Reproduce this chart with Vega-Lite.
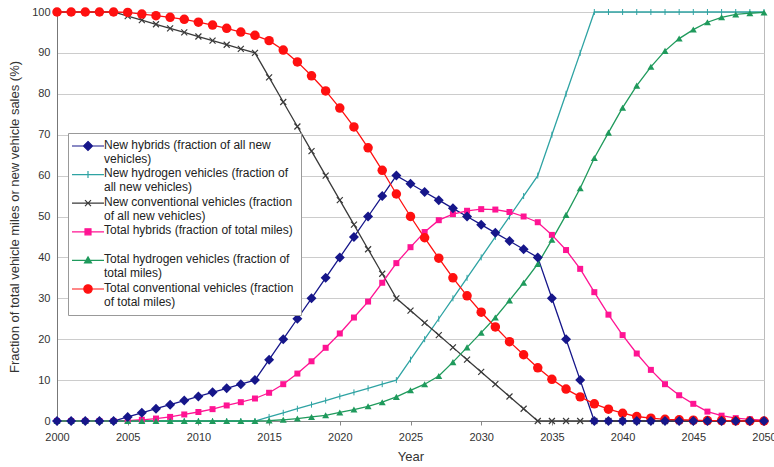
{
"$schema": "https://vega.github.io/schema/vega-lite/v6.json",
"width": 707, "height": 409,
"autosize": "none",
"padding": {"left": 57, "top": 12, "right": 10, "bottom": 46},
"background": "white",
"config": {
  "font": "Liberation Sans",
  "view": {"stroke": "#bbbbbb"},
  "axis": {"labelFont": "Liberation Sans", "titleFont": "Liberation Sans", "labelColor": "#333", "titleColor": "#333", "labelFontSize": 11, "titleFontSize": 13, "titleFontWeight": "normal", "gridColor": "#cccccc", "domainColor": "#888888"}
},
"data": {"values": [
{"series":"New hybrids","year":2000,"value":0},{"series":"New hybrids","year":2001,"value":0},{"series":"New hybrids","year":2002,"value":0},{"series":"New hybrids","year":2003,"value":0},{"series":"New hybrids","year":2004,"value":0},
{"series":"New hybrids","year":2005,"value":1},{"series":"New hybrids","year":2006,"value":2},{"series":"New hybrids","year":2007,"value":3},{"series":"New hybrids","year":2008,"value":4},{"series":"New hybrids","year":2009,"value":5},
{"series":"New hybrids","year":2010,"value":6},{"series":"New hybrids","year":2011,"value":7},{"series":"New hybrids","year":2012,"value":8},{"series":"New hybrids","year":2013,"value":9},{"series":"New hybrids","year":2014,"value":10},
{"series":"New hybrids","year":2015,"value":15},{"series":"New hybrids","year":2016,"value":20},{"series":"New hybrids","year":2017,"value":25},{"series":"New hybrids","year":2018,"value":30},{"series":"New hybrids","year":2019,"value":35},
{"series":"New hybrids","year":2020,"value":40},{"series":"New hybrids","year":2021,"value":45},{"series":"New hybrids","year":2022,"value":50},{"series":"New hybrids","year":2023,"value":55},{"series":"New hybrids","year":2024,"value":60},
{"series":"New hybrids","year":2025,"value":58},{"series":"New hybrids","year":2026,"value":56},{"series":"New hybrids","year":2027,"value":54},{"series":"New hybrids","year":2028,"value":52},{"series":"New hybrids","year":2029,"value":50},
{"series":"New hybrids","year":2030,"value":48},{"series":"New hybrids","year":2031,"value":46},{"series":"New hybrids","year":2032,"value":44},{"series":"New hybrids","year":2033,"value":42},{"series":"New hybrids","year":2034,"value":40},
{"series":"New hybrids","year":2035,"value":30},{"series":"New hybrids","year":2036,"value":20},{"series":"New hybrids","year":2037,"value":10},{"series":"New hybrids","year":2038,"value":0},{"series":"New hybrids","year":2039,"value":0},
{"series":"New hybrids","year":2040,"value":0},{"series":"New hybrids","year":2041,"value":0},{"series":"New hybrids","year":2042,"value":0},{"series":"New hybrids","year":2043,"value":0},{"series":"New hybrids","year":2044,"value":0},
{"series":"New hybrids","year":2045,"value":0},{"series":"New hybrids","year":2046,"value":0},{"series":"New hybrids","year":2047,"value":0},{"series":"New hybrids","year":2048,"value":0},{"series":"New hybrids","year":2049,"value":0},{"series":"New hybrids","year":2050,"value":0},

{"series":"New hydrogen","year":2000,"value":0},{"series":"New hydrogen","year":2001,"value":0},{"series":"New hydrogen","year":2002,"value":0},{"series":"New hydrogen","year":2003,"value":0},{"series":"New hydrogen","year":2004,"value":0},
{"series":"New hydrogen","year":2005,"value":0},{"series":"New hydrogen","year":2006,"value":0},{"series":"New hydrogen","year":2007,"value":0},{"series":"New hydrogen","year":2008,"value":0},{"series":"New hydrogen","year":2009,"value":0},
{"series":"New hydrogen","year":2010,"value":0},{"series":"New hydrogen","year":2011,"value":0},{"series":"New hydrogen","year":2012,"value":0},{"series":"New hydrogen","year":2013,"value":0},{"series":"New hydrogen","year":2014,"value":0},
{"series":"New hydrogen","year":2015,"value":1},{"series":"New hydrogen","year":2016,"value":2},{"series":"New hydrogen","year":2017,"value":3},{"series":"New hydrogen","year":2018,"value":4},{"series":"New hydrogen","year":2019,"value":5},
{"series":"New hydrogen","year":2020,"value":6},{"series":"New hydrogen","year":2021,"value":7},{"series":"New hydrogen","year":2022,"value":8},{"series":"New hydrogen","year":2023,"value":9},{"series":"New hydrogen","year":2024,"value":10},
{"series":"New hydrogen","year":2025,"value":15},{"series":"New hydrogen","year":2026,"value":20},{"series":"New hydrogen","year":2027,"value":25},{"series":"New hydrogen","year":2028,"value":30},{"series":"New hydrogen","year":2029,"value":35},
{"series":"New hydrogen","year":2030,"value":40},{"series":"New hydrogen","year":2031,"value":45},{"series":"New hydrogen","year":2032,"value":50},{"series":"New hydrogen","year":2033,"value":55},{"series":"New hydrogen","year":2034,"value":60},
{"series":"New hydrogen","year":2035,"value":70},{"series":"New hydrogen","year":2036,"value":80},{"series":"New hydrogen","year":2037,"value":90},{"series":"New hydrogen","year":2038,"value":100},{"series":"New hydrogen","year":2039,"value":100},
{"series":"New hydrogen","year":2040,"value":100},{"series":"New hydrogen","year":2041,"value":100},{"series":"New hydrogen","year":2042,"value":100},{"series":"New hydrogen","year":2043,"value":100},{"series":"New hydrogen","year":2044,"value":100},
{"series":"New hydrogen","year":2045,"value":100},{"series":"New hydrogen","year":2046,"value":100},{"series":"New hydrogen","year":2047,"value":100},{"series":"New hydrogen","year":2048,"value":100},{"series":"New hydrogen","year":2049,"value":100},{"series":"New hydrogen","year":2050,"value":100},

{"series":"New conventional","year":2000,"value":100},{"series":"New conventional","year":2001,"value":100},{"series":"New conventional","year":2002,"value":100},{"series":"New conventional","year":2003,"value":100},{"series":"New conventional","year":2004,"value":100},
{"series":"New conventional","year":2005,"value":99},{"series":"New conventional","year":2006,"value":98},{"series":"New conventional","year":2007,"value":97},{"series":"New conventional","year":2008,"value":96},{"series":"New conventional","year":2009,"value":95},
{"series":"New conventional","year":2010,"value":94},{"series":"New conventional","year":2011,"value":93},{"series":"New conventional","year":2012,"value":92},{"series":"New conventional","year":2013,"value":91},{"series":"New conventional","year":2014,"value":90},
{"series":"New conventional","year":2015,"value":84},{"series":"New conventional","year":2016,"value":78},{"series":"New conventional","year":2017,"value":72},{"series":"New conventional","year":2018,"value":66},{"series":"New conventional","year":2019,"value":60},
{"series":"New conventional","year":2020,"value":54},{"series":"New conventional","year":2021,"value":48},{"series":"New conventional","year":2022,"value":42},{"series":"New conventional","year":2023,"value":36},{"series":"New conventional","year":2024,"value":30},
{"series":"New conventional","year":2025,"value":27},{"series":"New conventional","year":2026,"value":24},{"series":"New conventional","year":2027,"value":21},{"series":"New conventional","year":2028,"value":18},{"series":"New conventional","year":2029,"value":15},
{"series":"New conventional","year":2030,"value":12},{"series":"New conventional","year":2031,"value":9},{"series":"New conventional","year":2032,"value":6},{"series":"New conventional","year":2033,"value":3},{"series":"New conventional","year":2034,"value":0},
{"series":"New conventional","year":2035,"value":0},{"series":"New conventional","year":2036,"value":0},{"series":"New conventional","year":2037,"value":0},{"series":"New conventional","year":2038,"value":0},{"series":"New conventional","year":2039,"value":0},
{"series":"New conventional","year":2040,"value":0},{"series":"New conventional","year":2041,"value":0},{"series":"New conventional","year":2042,"value":0},{"series":"New conventional","year":2043,"value":0},{"series":"New conventional","year":2044,"value":0},
{"series":"New conventional","year":2045,"value":0},{"series":"New conventional","year":2046,"value":0},{"series":"New conventional","year":2047,"value":0},{"series":"New conventional","year":2048,"value":0},{"series":"New conventional","year":2049,"value":0},{"series":"New conventional","year":2050,"value":0},

{"series":"Total hybrids","year":2000,"value":0},{"series":"Total hybrids","year":2001,"value":0},{"series":"Total hybrids","year":2002,"value":0},{"series":"Total hybrids","year":2003,"value":0},{"series":"Total hybrids","year":2004,"value":0},
{"series":"Total hybrids","year":2005,"value":0.1},{"series":"Total hybrids","year":2006,"value":0.3},{"series":"Total hybrids","year":2007,"value":0.6},{"series":"Total hybrids","year":2008,"value":1},{"series":"Total hybrids","year":2009,"value":1.6},
{"series":"Total hybrids","year":2010,"value":2.2},{"series":"Total hybrids","year":2011,"value":2.9},{"series":"Total hybrids","year":2012,"value":3.8},{"series":"Total hybrids","year":2013,"value":4.6},{"series":"Total hybrids","year":2014,"value":5.5},
{"series":"Total hybrids","year":2015,"value":6.9},{"series":"Total hybrids","year":2016,"value":9},{"series":"Total hybrids","year":2017,"value":11.6},{"series":"Total hybrids","year":2018,"value":14.6},{"series":"Total hybrids","year":2019,"value":17.9},
{"series":"Total hybrids","year":2020,"value":21.4},{"series":"Total hybrids","year":2021,"value":25.3},{"series":"Total hybrids","year":2022,"value":29.2},{"series":"Total hybrids","year":2023,"value":33.8},{"series":"Total hybrids","year":2024,"value":38.6},
{"series":"Total hybrids","year":2025,"value":42.5},{"series":"Total hybrids","year":2026,"value":46.2},{"series":"Total hybrids","year":2027,"value":49.1},{"series":"Total hybrids","year":2028,"value":50.6},{"series":"Total hybrids","year":2029,"value":51.4},
{"series":"Total hybrids","year":2030,"value":51.8},{"series":"Total hybrids","year":2031,"value":51.7},{"series":"Total hybrids","year":2032,"value":51.1},{"series":"Total hybrids","year":2033,"value":50},{"series":"Total hybrids","year":2034,"value":48.6},
{"series":"Total hybrids","year":2035,"value":45.5},{"series":"Total hybrids","year":2036,"value":41.8},{"series":"Total hybrids","year":2037,"value":37.2},{"series":"Total hybrids","year":2038,"value":31.5},{"series":"Total hybrids","year":2039,"value":26},
{"series":"Total hybrids","year":2040,"value":21},{"series":"Total hybrids","year":2041,"value":16.5},{"series":"Total hybrids","year":2042,"value":12.5},{"series":"Total hybrids","year":2043,"value":9},{"series":"Total hybrids","year":2044,"value":6.3},
{"series":"Total hybrids","year":2045,"value":4.2},{"series":"Total hybrids","year":2046,"value":2.3},{"series":"Total hybrids","year":2047,"value":1.3},{"series":"Total hybrids","year":2048,"value":0.7},{"series":"Total hybrids","year":2049,"value":0.4},{"series":"Total hybrids","year":2050,"value":0.2},

{"series":"Total hydrogen","year":2000,"value":0},{"series":"Total hydrogen","year":2001,"value":0},{"series":"Total hydrogen","year":2002,"value":0},{"series":"Total hydrogen","year":2003,"value":0},{"series":"Total hydrogen","year":2004,"value":0},
{"series":"Total hydrogen","year":2005,"value":0},{"series":"Total hydrogen","year":2006,"value":0},{"series":"Total hydrogen","year":2007,"value":0},{"series":"Total hydrogen","year":2008,"value":0},{"series":"Total hydrogen","year":2009,"value":0},
{"series":"Total hydrogen","year":2010,"value":0},{"series":"Total hydrogen","year":2011,"value":0},{"series":"Total hydrogen","year":2012,"value":0},{"series":"Total hydrogen","year":2013,"value":0},{"series":"Total hydrogen","year":2014,"value":0},
{"series":"Total hydrogen","year":2015,"value":0.1},{"series":"Total hydrogen","year":2016,"value":0.3},{"series":"Total hydrogen","year":2017,"value":0.6},{"series":"Total hydrogen","year":2018,"value":1},{"series":"Total hydrogen","year":2019,"value":1.4},
{"series":"Total hydrogen","year":2020,"value":2.1},{"series":"Total hydrogen","year":2021,"value":2.8},{"series":"Total hydrogen","year":2022,"value":3.6},{"series":"Total hydrogen","year":2023,"value":4.6},{"series":"Total hydrogen","year":2024,"value":5.9},
{"series":"Total hydrogen","year":2025,"value":7.5},{"series":"Total hydrogen","year":2026,"value":9},{"series":"Total hydrogen","year":2027,"value":11},{"series":"Total hydrogen","year":2028,"value":14.4},{"series":"Total hydrogen","year":2029,"value":18},
{"series":"Total hydrogen","year":2030,"value":21.6},{"series":"Total hydrogen","year":2031,"value":25.3},{"series":"Total hydrogen","year":2032,"value":29.5},{"series":"Total hydrogen","year":2033,"value":33.8},{"series":"Total hydrogen","year":2034,"value":38.4},
{"series":"Total hydrogen","year":2035,"value":44.3},{"series":"Total hydrogen","year":2036,"value":50.4},{"series":"Total hydrogen","year":2037,"value":56.9},{"series":"Total hydrogen","year":2038,"value":64.3},{"series":"Total hydrogen","year":2039,"value":70.5},
{"series":"Total hydrogen","year":2040,"value":76.6},{"series":"Total hydrogen","year":2041,"value":82},{"series":"Total hydrogen","year":2042,"value":86.6},{"series":"Total hydrogen","year":2043,"value":90.5},{"series":"Total hydrogen","year":2044,"value":93.5},
{"series":"Total hydrogen","year":2045,"value":95.7},{"series":"Total hydrogen","year":2046,"value":97.5},{"series":"Total hydrogen","year":2047,"value":98.7},{"series":"Total hydrogen","year":2048,"value":99.4},{"series":"Total hydrogen","year":2049,"value":99.7},{"series":"Total hydrogen","year":2050,"value":99.9},

{"series":"Total conventional","year":2000,"value":100},{"series":"Total conventional","year":2001,"value":100},{"series":"Total conventional","year":2002,"value":100},{"series":"Total conventional","year":2003,"value":100},{"series":"Total conventional","year":2004,"value":100},
{"series":"Total conventional","year":2005,"value":99.9},{"series":"Total conventional","year":2006,"value":99.5},{"series":"Total conventional","year":2007,"value":99.1},{"series":"Total conventional","year":2008,"value":98.7},{"series":"Total conventional","year":2009,"value":98.2},
{"series":"Total conventional","year":2010,"value":97.5},{"series":"Total conventional","year":2011,"value":96.8},{"series":"Total conventional","year":2012,"value":96},{"series":"Total conventional","year":2013,"value":95.1},{"series":"Total conventional","year":2014,"value":94.3},
{"series":"Total conventional","year":2015,"value":93},{"series":"Total conventional","year":2016,"value":90.7},{"series":"Total conventional","year":2017,"value":87.8},{"series":"Total conventional","year":2018,"value":84.4},{"series":"Total conventional","year":2019,"value":80.7},
{"series":"Total conventional","year":2020,"value":76.5},{"series":"Total conventional","year":2021,"value":71.9},{"series":"Total conventional","year":2022,"value":66.8},{"series":"Total conventional","year":2023,"value":61.3},{"series":"Total conventional","year":2024,"value":55.5},
{"series":"Total conventional","year":2025,"value":50},{"series":"Total conventional","year":2026,"value":44.8},{"series":"Total conventional","year":2027,"value":39.8},{"series":"Total conventional","year":2028,"value":35},{"series":"Total conventional","year":2029,"value":30.6},
{"series":"Total conventional","year":2030,"value":26.6},{"series":"Total conventional","year":2031,"value":23},{"series":"Total conventional","year":2032,"value":19.4},{"series":"Total conventional","year":2033,"value":16.2},{"series":"Total conventional","year":2034,"value":13},
{"series":"Total conventional","year":2035,"value":10.2},{"series":"Total conventional","year":2036,"value":7.8},{"series":"Total conventional","year":2037,"value":5.9},{"series":"Total conventional","year":2038,"value":4.2},{"series":"Total conventional","year":2039,"value":2.9},
{"series":"Total conventional","year":2040,"value":1.9},{"series":"Total conventional","year":2041,"value":1.1},{"series":"Total conventional","year":2042,"value":0.7},{"series":"Total conventional","year":2043,"value":0.4},{"series":"Total conventional","year":2044,"value":0.3},
{"series":"Total conventional","year":2045,"value":0.2},{"series":"Total conventional","year":2046,"value":0.1},{"series":"Total conventional","year":2047,"value":0.1},{"series":"Total conventional","year":2048,"value":0.05},{"series":"Total conventional","year":2049,"value":0},{"series":"Total conventional","year":2050,"value":0}
]},
"encoding": {
  "x": {"field": "year", "type": "quantitative", "scale": {"domain": [2000, 2050], "nice": false, "zero": false},
        "axis": {"title": "Year", "values": [2000,2005,2010,2015,2020,2025,2030,2035,2040,2045,2050], "format": "d", "grid": false, "labelFlush": false, "tickColor": "#888888", "tickSize": 4, "labelPadding": 6, "titlePadding": 8}},
  "y": {"field": "value", "type": "quantitative", "scale": {"domain": [0, 100], "nice": false},
        "axis": {"title": "Fraction of total vehicle miles or new vehicle sales (%)", "values": [0,10,20,30,40,50,60,70,80,90,100], "ticks": false, "labelFlush": false, "labelPadding": 7, "titlePadding": 10, "domainColor": "#777777"}},
  "color": {"field": "series", "type": "nominal",
    "scale": {"domain": ["New hybrids", "New hydrogen", "New conventional", "Total hybrids", "Total hydrogen", "Total conventional"],
              "range": ["#16168a", "#2ea3a3", "#3a3a3a", "#ff1493", "#1f9a5c", "#ff1010"]},
    "legend": {
      "title": null, "orient": "none", "legendX": 11, "legendY": 121,
      "fillColor": "white", "strokeColor": "#999999", "padding": 7,
      "symbolSize": 100, "labelOffset": 17, "labelLimit": 260, "rowPadding": 1.6,
      "labelFont": "Liberation Sans", "labelFontSize": 12, "labelColor": "#222222", "labelBaseline": "top",
      "labelExpr": "datum.label == 'New hybrids' ? ['New hybrids (fraction of all new', 'vehicles)'] : datum.label == 'New hydrogen' ? ['New hydrogen vehicles (fraction of', 'all new vehicles)'] : datum.label == 'New conventional' ? ['New conventional vehicles (fraction', 'of all new vehicles)'] : datum.label == 'Total hybrids' ? ['Total hybrids (fraction of total miles)', ' '] : datum.label == 'Total hydrogen' ? ['Total hydrogen vehicles (fraction of', 'total miles)'] : ['Total conventional vehicles (fraction', 'of total miles)']",
      "encode": {
        "labels": {"update": {"dy": {"value": -6.5}, "lineHeight": {"value": 14}}},
        "symbols": {"update": {
          "shape": {"signal": "datum.value == 'New hybrids' ? 'M-1.8,0H4.6M1.4,-0.9L2.3,0L1.4,0.9L0.5,0Z' : datum.value == 'New hydrogen' ? 'M-1.8,0H4.6M1.4,-0.7V0.7' : datum.value == 'New conventional' ? 'M-1.8,0H4.6M0.8,-0.6L2,0.6M2,-0.6L0.8,0.6' : datum.value == 'Total hybrids' ? 'M-1.8,0H4.6M0.8,-0.6H2V0.6H0.8Z' : datum.value == 'Total hydrogen' ? 'M-1.8,0H4.6M1.4,-0.7L2.1,0.5H0.7Z' : 'M-1.8,0H4.6M2.24,0A0.84,0.84 0 1,1 0.56,0A0.84,0.84 0 1,1 2.24,0Z'"},
          "size": {"value": 100},
          "fill": {"signal": "scale('color', datum.value)"},
          "stroke": {"signal": "scale('color', datum.value)"},
          "strokeWidth": {"value": 1.2},
          "opacity": {"value": 1}, "fillOpacity": {"value": 1}, "strokeOpacity": {"value": 1}
        }}
      }
    }
  }
},
"layer": [
  {"mark": {"type": "line", "strokeWidth": 1.3}},
  {"transform": [{"filter": "datum.series == 'New hydrogen'"}], "mark": {"type": "point", "shape": "M0,-1V1", "size": 36, "filled": false, "strokeWidth": 1, "opacity": 1}},
  {"transform": [{"filter": "datum.series == 'New conventional'"}], "mark": {"type": "point", "shape": "M-1,-1L1,1M1,-1L-1,1", "size": 36, "filled": false, "strokeWidth": 1.2, "opacity": 1}},
  {"transform": [{"filter": "datum.series == 'Total hybrids'"}], "mark": {"type": "point", "shape": "square", "size": 36, "filled": true, "opacity": 1}},
  {"transform": [{"filter": "datum.series == 'Total hydrogen'"}], "mark": {"type": "point", "shape": "triangle-up", "size": 49, "filled": true, "opacity": 1}},
  {"transform": [{"filter": "datum.series == 'Total conventional'"}], "mark": {"type": "point", "shape": "circle", "size": 90, "filled": true, "opacity": 1}},
  {"transform": [{"filter": "datum.series == 'New hybrids'"}], "mark": {"type": "point", "shape": "diamond", "size": 100, "filled": true, "opacity": 1}}
]
}
